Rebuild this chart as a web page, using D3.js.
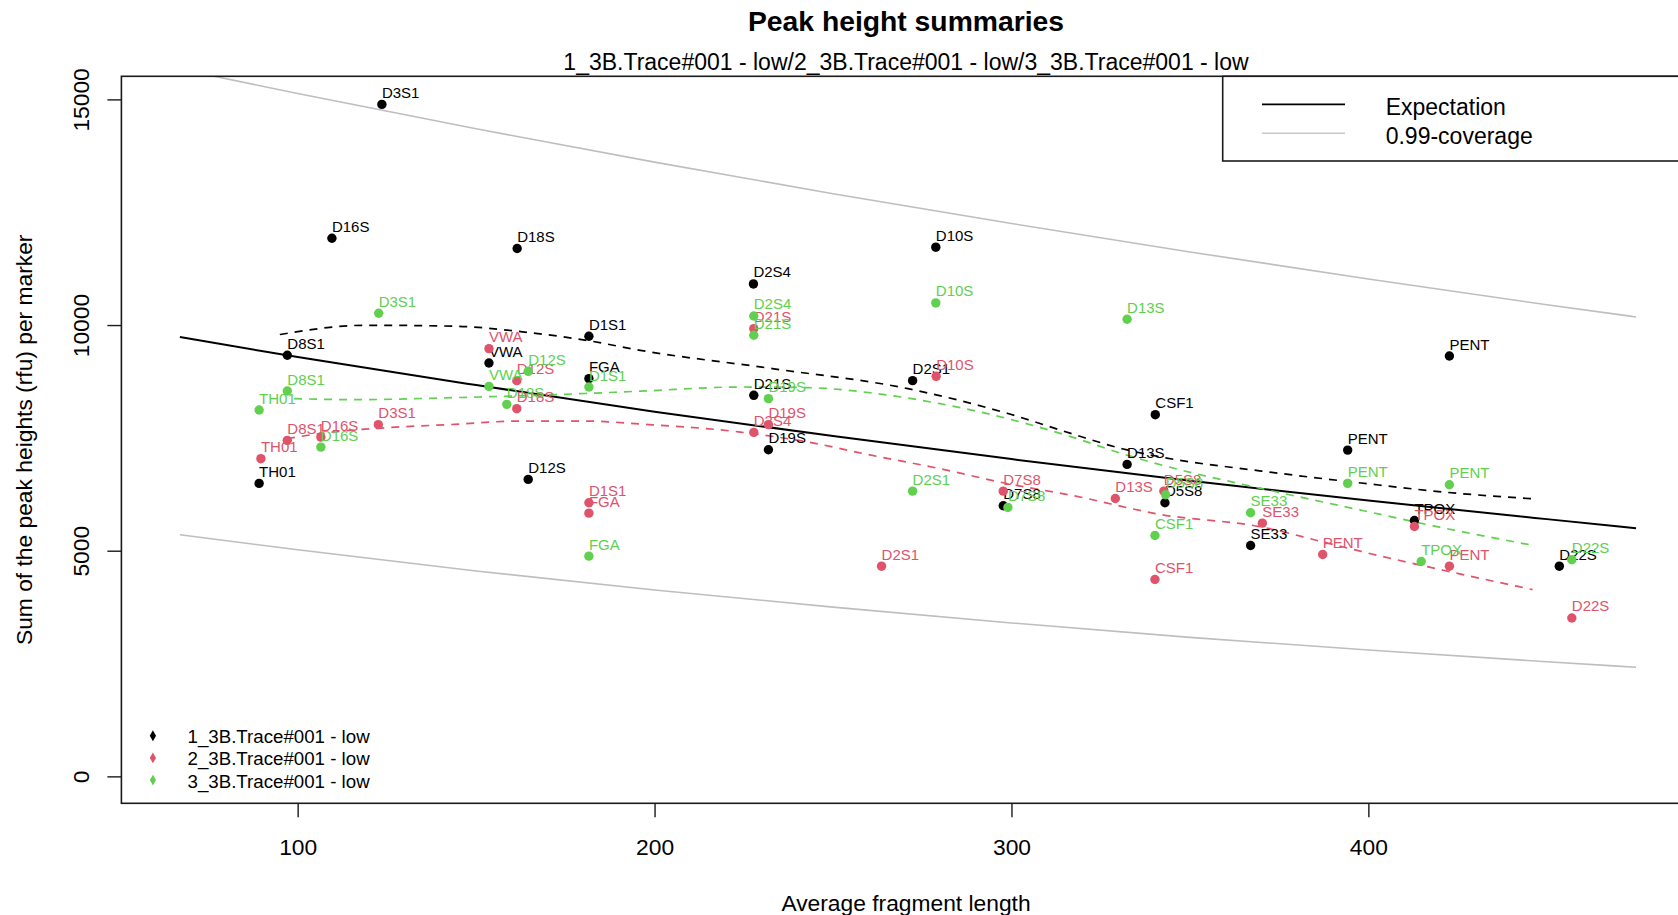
<!DOCTYPE html>
<html>
<head>
<meta charset="utf-8">
<script src="https://cdn.jsdelivr.net/npm/d3@7"></script>
<style>
  body { margin: 0; background: #fff; }
  svg { display: block; }
  text { font-family: "Liberation Sans", Arial, Helvetica, sans-serif; }
</style>
</head>
<body>
<svg id="chart" width="1678" height="915"></svg>
<script>
// ---- data -------------------------------------------------------------
const sampleNames = ["1_3B.Trace#001 - low", "2_3B.Trace#001 - low", "3_3B.Trace#001 - low"];
const sampleColors = ["#000000", "#DF536B", "#61D04F"];

// marker labels (first four characters of the marker name)
const markers = ["TH01","D8S1","D16S","D3S1","VWA","D18S","D12S","D1S1","FGA","D2S4","D21S",
                 "D19S","D2S1","D10S","D7S8","D13S","CSF1","D5S8","SE33","PENT","TPOX","PENT","D22S"];

// average fragment length per marker, per sample
const len1 = [89.2, 97.1, 109.6, 123.6, 153.6, 161.5, 164.6, 181.6, 181.6, 227.7, 227.8,
              231.9, 272.3, 278.8, 297.7, 332.4, 340.3, 343.0, 367.0, 394.2, 412.9, 422.7, 453.5];
const len2 = [89.7, 97.1, 106.5, 122.6, 153.6, 161.4, 161.4, 181.6, 181.6, 227.8, 227.8,
              231.9, 263.6, 278.9, 297.7, 329.1, 340.2, 342.7, 370.3, 387.2, 412.9, 422.7, 457.0];
const len3 = [89.2, 97.1, 106.5, 122.7, 153.6, 158.6, 164.6, 181.6, 181.6, 227.8, 227.8,
              231.9, 272.3, 278.8, 299.0, 332.4, 340.2, 343.2, 367.0, 394.2, 414.8, 422.7, 457.0];

// sum of peak heights (rfu) per marker, per sample
const sum1 = [6491, 9330, 11924, 14889, 9159, 11696, 6580, 9751, 8813, 10911, 8443,
              7238, 8768, 11725, 5996, 6912, 8014, 6063, 5116, 7229, 5670, 9314, 4657];
const sum2 = [7039, 7445, 7518, 7793, 9478, 8147, 8768, 6063, 5832, 7622, 9921,
              7793, 4657, 8864, 6320, 6158, 4362, 6320, 5611, 4916, 5537, 4657, 3510];
const sum3 = [8117, 8538, 7296, 10261, 8642, 8243, 8975, 8627, 4879, 10201, 9773,
              8369, 6320, 10490, 5959, 10128, 5338, 6240, 5841, 6491, 4761, 6462, 4799];

// smoothed trend per sample (dashed curves)
const trendLen1 = [95, 119, 144, 163, 181, 196, 233, 271, 299, 317, 331, 342, 370, 398, 421, 446];
const trendSum1 = [9790, 9995, 9975, 9850, 9660, 9440, 9035, 8590, 8040, 7590, 7260, 7075, 6765, 6500, 6300, 6150];
const trendLen2 = [97, 106, 125, 144, 162, 181, 196, 224, 243, 261, 280, 299, 317, 342, 370, 387, 398, 421, 446];
const trendSum2 = [7482, 7593, 7726, 7800, 7873, 7873, 7808, 7629, 7407, 7112, 6817, 6484, 6225, 5800, 5527, 5200, 4984, 4567, 4139];
const trendLen3 = [99, 116, 144, 172, 196, 224, 243, 261, 280, 299, 317, 331, 342, 370, 398, 421, 446];
const trendSum3 = [8370, 8347, 8392, 8458, 8535, 8627, 8613, 8494, 8258, 7926, 7518, 7150, 6900, 6378, 5897, 5505, 5121];

// expectation curve and 0.99-coverage band
const modelLen   = [67, 100, 150, 200, 250, 300, 350, 400, 450, 475];
const expectSum  = [9735, 9290, 8670, 8080, 7540, 7030, 6550, 6110, 5700, 5500];
const upperSum   = [15670, 15130, 14350, 13610, 12910, 12250, 11620, 11020, 10450, 10180];
const lowerSum   = [5353, 5020, 4550, 4130, 3750, 3400, 3080, 2800, 2540, 2417];

const xTicks = [100, 200, 300, 400];
const yTicks = [0, 5000, 10000, 15000];
const xLim = [66.9, 474.0];
const yLim = [0, 14915];

// ---- layout -----------------------------------------------------------
const W = 1678, H = 915;
const plot = { left: 121.4, right: 1690.6, top: 76.3, bottom: 803.3 };
const FONT = 22.8;

const svg = d3.select("#chart");
svg.append("rect").attr("width", W).attr("height", H).attr("fill", "#fff");

const pad = (lim) => { const r = lim[1] - lim[0]; return [lim[0] - 0.04 * r, lim[1] + 0.04 * r]; };
const x = d3.scaleLinear().domain(pad(xLim)).range([plot.left, plot.right]);
const y = d3.scaleLinear().domain(pad(yLim)).range([plot.bottom, plot.top]);

svg.append("defs").append("clipPath").attr("id", "plotClip")
  .append("rect")
  .attr("x", plot.left).attr("y", plot.top)
  .attr("width", plot.right - plot.left).attr("height", plot.bottom - plot.top);

const area = svg.append("g").attr("clip-path", "url(#plotClip)");

const line = d3.line().x(d => x(d[0])).y(d => y(d[1])).curve(d3.curveMonotoneX);
const zip = (a, b) => a.map((v, i) => [v, b[i]]);

// coverage band
[upperSum, lowerSum].forEach(s => {
  area.append("path").datum(zip(modelLen, s)).attr("d", line)
    .attr("fill", "none").attr("stroke", "#BEBEBE").attr("stroke-width", 1.6);
});
// expectation
area.append("path").datum(zip(modelLen, expectSum)).attr("d", line)
  .attr("fill", "none").attr("stroke", "#000").attr("stroke-width", 2);

// per-sample dashed trends
const trends = [[trendLen1, trendSum1], [trendLen2, trendSum2], [trendLen3, trendSum3]];
trends.forEach((t, i) => {
  area.append("path").datum(zip(t[0], t[1])).attr("d", line)
    .attr("fill", "none").attr("stroke", sampleColors[i])
    .attr("stroke-width", 1.7).attr("stroke-dasharray", "8,7");
});

// points and marker labels
const samples = [[len1, sum1], [len2, sum2], [len3, sum3]];
samples.forEach((s, i) => {
  const pts = markers.map((m, k) => ({ m, len: s[0][k], sum: s[1][k] }));
  const g = area.append("g");
  g.selectAll("circle").data(pts).join("circle")
    .attr("cx", d => x(d.len)).attr("cy", d => y(d.sum)).attr("r", 4.7)
    .attr("fill", sampleColors[i]);
  g.selectAll("text").data(pts).join("text")
    .attr("x", d => x(d.len)).attr("y", d => y(d.sum) - 6.5)
    .attr("font-size", 15).attr("fill", sampleColors[i])
    .text(d => d.m);
});

// frame
svg.append("rect")
  .attr("x", plot.left).attr("y", plot.top)
  .attr("width", plot.right - plot.left).attr("height", plot.bottom - plot.top)
  .attr("fill", "none").attr("stroke", "#1a1a1a").attr("stroke-width", 1.6);

// x axis
const xAxis = svg.append("g").attr("transform", `translate(0,${plot.bottom})`)
  .call(d3.axisBottom(x).tickValues(xTicks).tickSize(14).tickPadding(20).tickFormat(d3.format("d")));
xAxis.select(".domain").remove();
xAxis.selectAll("line").attr("stroke", "#1a1a1a").attr("stroke-width", 1.4);
xAxis.selectAll("text").attr("font-size", FONT).attr("fill", "#000")
  .attr("dy", null).attr("y", 51.7);

// y axis (labels parallel to the axis)
const yAxis = svg.append("g").attr("transform", `translate(${plot.left},0)`)
  .call(d3.axisLeft(y).tickValues(yTicks).tickSize(14).tickFormat(d3.format("d")));
yAxis.select(".domain").remove();
yAxis.selectAll("line").attr("stroke", "#1a1a1a").attr("stroke-width", 1.4);
yAxis.selectAll("text")
  .attr("font-size", FONT).attr("fill", "#000")
  .attr("x", null).attr("dy", null)
  .attr("text-anchor", "middle")
  .attr("transform", "translate(-32,0) rotate(-90)");

// titles
const cx = (plot.left + plot.right) / 2;
svg.append("text").attr("x", cx).attr("y", 30.5).attr("text-anchor", "middle")
  .attr("font-size", 28.3).attr("font-weight", "bold").text("Peak height summaries");
svg.append("text").attr("x", cx).attr("y", 70).attr("text-anchor", "middle")
  .attr("font-size", 23).text(sampleNames.join("/"));
svg.append("text").attr("x", cx).attr("y", 911).attr("text-anchor", "middle")
  .attr("font-size", FONT).text("Average fragment length");
svg.append("text")
  .attr("transform", `translate(32,${(plot.top + plot.bottom) / 2}) rotate(-90)`)
  .attr("text-anchor", "middle").attr("font-size", FONT)
  .text("Sum of the peak heights (rfu) per marker");

// legend: model lines (top right)
const lg = svg.append("g");
lg.append("rect").attr("x", 1222.7).attr("y", plot.top).attr("width", 600).attr("height", 161 - plot.top)
  .attr("fill", "#fff").attr("stroke", "#1a1a1a").attr("stroke-width", 1.6);
const modelKeys = [{ label: "Expectation", color: "#000", w: 1.8, ly: 104.3 },
                   { label: "0.99-coverage", color: "#C8C8C8", w: 1.6, ly: 133.3 }];
modelKeys.forEach(k => {
  lg.append("line").attr("x1", 1262).attr("x2", 1345).attr("y1", k.ly).attr("y2", k.ly)
    .attr("stroke", k.color).attr("stroke-width", k.w);
  lg.append("text").attr("x", 1385.7).attr("y", k.ly + 10.5).attr("font-size", 23).text(k.label);
});

// legend: samples (bottom left)
const sg = svg.append("g");
sampleNames.forEach((n, i) => {
  const yy = 735.7 + i * 22.2;
  sg.append("path").attr("d", d3.symbol(d3.symbolDiamond, 34)())
    .attr("transform", `translate(152.9,${yy})`).attr("fill", sampleColors[i]);
  sg.append("text").attr("x", 187.5).attr("y", yy + 7.5).attr("font-size", 18.7).text(n);
});
</script>
</body>
</html>
